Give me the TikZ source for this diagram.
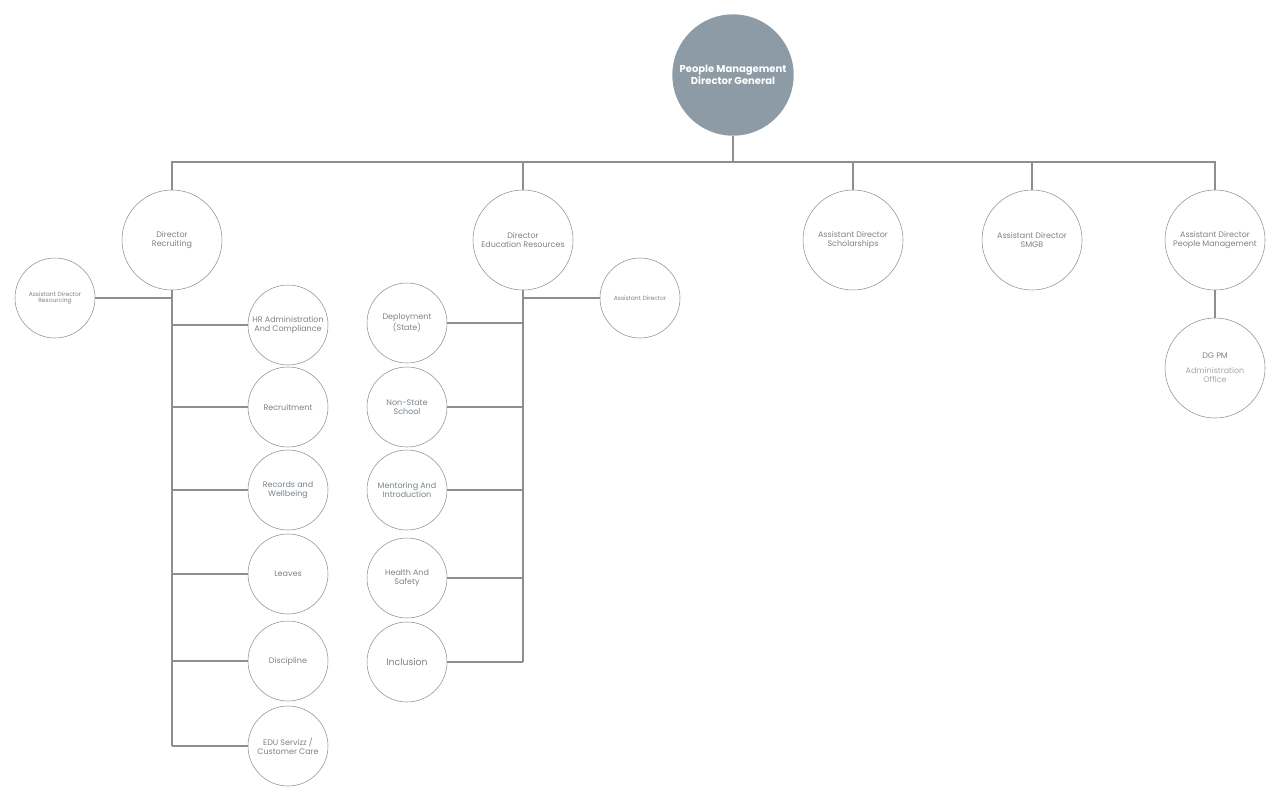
\documentclass[tikz,border=0pt]{standalone}
\usepackage{fontspec}
\setmainfont{Poppins}
\definecolor{txtgray}{HTML}{7A8288}
\definecolor{rootfill}{HTML}{8C9BA5}
\definecolor{linegray}{HTML}{8A8F93}
\begin{document}
\begin{tikzpicture}[x=0.75pt, y=-0.75pt, font=\fontsize{6}{7}\selectfont,
  text=txtgray, draw=linegray,
  big/.style={circle, draw=linegray, minimum size=75pt, inner sep=0pt, align=center},
  small/.style={circle, draw=linegray, minimum size=60pt, inner sep=0pt, align=center},
  root/.style={circle, fill=rootfill, minimum size=91pt, inner sep=0pt, align=center, text=white, font=\fontsize{7.5}{8}\selectfont\bfseries}]
\useasboundingbox (0,0) rectangle (1280,800);

\node[root] (a0) at (733,75) {People Management\\Director General};

\node[big] (a1) at (172,240) {Director\\Recruiting};
\node[big] (a2) at (523,240) {Director\\Education Resources};
\node[big] (a3) at (853,240) {Assistant Director\\Scholarships};
\node[big] (a4) at (1032,240) {Assistant Director\\SMGB};
\node[big] (a5) at (1215,240) {Assistant Director\\People Management};

\node[small, font=\fontsize{4.5}{5}\selectfont] (b0) at (55,298) {Assistant Director\\Resourcing};
\node[small, font=\fontsize{4.5}{5}\selectfont] (c0) at (640,298) {Assistant Director};
\node[big] (d0) at (1215,368) {DG PM\\[4pt]{\color{txtgray!70}Administration}\\{\color{txtgray!70}Office}};

\node[small] (b1) at (288,325) {HR Administration\\And Compliance};
\node[small] (b2) at (288,407) {Recruitment};
\node[small] (b3) at (288,490) {Records and\\Wellbeing};
\node[small] (b4) at (288,574) {Leaves};
\node[small] (b5) at (288,661) {Discipline};
\node[small] (b6) at (288,746) {EDU Servizz /\\Customer Care};

\node[small] (c1) at (407,323) {Deployment\\(State)};
\node[small] (c2) at (407,407) {Non-State\\School};
\node[small] (c3) at (407,490) {Mentoring And\\Introduction};
\node[small] (c4) at (407,578) {Health And\\Safety};
\node[small, font=\fontsize{7}{8}\selectfont] (c5) at (407,662) {Inclusion};

\begin{scope}[draw=linegray, line width=0.8pt]
\draw (a0.south) -- (733,162);
\draw (a1.north) |- (733,162) -| (a5.north);
\draw (a2.north) -- (523,162);
\draw (a3.north) -- (853,162);
\draw (a4.north) -- (1032,162);
\draw (a5.south) -- (d0.north);

\draw (a1.south) -- (172,746);
\draw (b0.east) -- (172,298);
\foreach \i in {1,...,6} \draw (b\i.west) -- (b\i.west -| a1.south);

\draw (a2.south) -- (523,662);
\draw (c0.west) -- (523,298);
\foreach \i in {1,...,5} \draw (c\i.east) -- (c\i.east -| a2.south);
\end{scope}
\end{tikzpicture}
\end{document}
